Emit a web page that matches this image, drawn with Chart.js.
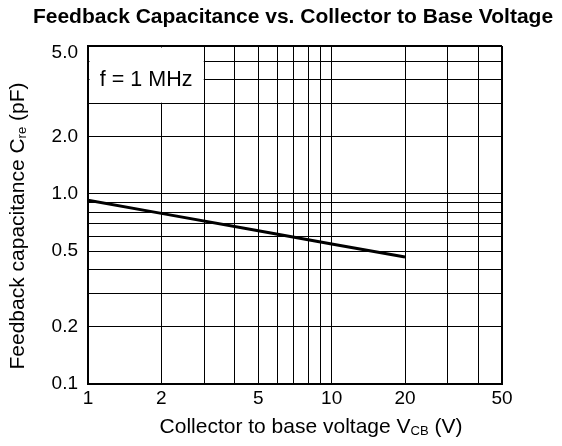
<!DOCTYPE html>
<html>
<head>
<meta charset="utf-8">
<script src="https://cdn.jsdelivr.net/npm/chart.js@4.4.1/dist/chart.umd.min.js"></script>
<style>
  html, body { margin: 0; padding: 0; background: #fff; }
  #wrap { width: 562px; height: 446px; }
</style>
</head>
<body>
<div id="wrap"><canvas id="cre"></canvas></div>
<script>
// Valores (escala log-log)
const vcb = [1, 2, 5, 10, 20];
const cre = [0.925, 0.79, 0.64, 0.545, 0.466];

// Linhas de grade e rotulos dos eixos
const xGrid = [1, 2, 3, 4, 5, 6, 7, 8, 9, 10, 20, 30, 40, 50];
const xLabels = { 1: "1", 2: "2", 5: "5", 10: "10", 20: "20", 50: "50" };
const yGrid = [0.1, 0.2, 0.3, 0.4, 0.5, 0.6, 0.7, 0.8, 0.9, 1, 2, 3, 4, 5, 5.5, 6];
const yLabels = { 0.1: "0.1", 0.2: "0.2", 0.5: "0.5", 1: "1.0", 2: "2.0", 5.5: "5.0" };
const yNoLine = [5.5];

const FONT = "'Liberation Sans', Arial, Helvetica, sans-serif";

// Desenha texto com subscrito (C_re, V_CB)
function drawParts(ctx, parts, size) {
  let total = 0;
  parts.forEach((p) => {
    ctx.font = (p.sub ? size * 0.62 : size) + "px " + FONT;
    p.w = ctx.measureText(p.t).width;
    total += p.w;
  });
  let x = -total / 2;
  parts.forEach((p) => {
    ctx.font = (p.sub ? size * 0.62 : size) + "px " + FONT;
    ctx.fillText(p.t, x, p.sub ? size * 0.22 : 0);
    x += p.w;
  });
}

const extras = {
  id: "extras",
  beforeDatasetsDraw(chart) {
    const { ctx, scales } = chart;
    const x1 = scales.x.getPixelForValue(1);
    const x2 = scales.x.getPixelForValue(3);
    const y1 = scales.y.getPixelForValue(6);
    const y2 = scales.y.getPixelForValue(3);
    ctx.save();
    ctx.fillStyle = "#fff";
    ctx.fillRect(x1 + 1.5, y1 + 1.5, x2 - x1 - 2, y2 - y1 - 2);
    ctx.fillStyle = "#000";
    ctx.font = "21.5px " + FONT;
    ctx.textAlign = "center";
    ctx.textBaseline = "middle";
    ctx.fillText("f = 1 MHz", (x1 + x2) / 2, (y1 + y2) / 2 + 5);
    ctx.restore();
  },
  afterDraw(chart) {
    const { ctx, chartArea } = chart;
    ctx.save();
    ctx.fillStyle = "#000";
    ctx.textAlign = "center";
    ctx.textBaseline = "middle";
    ctx.font = "bold 21px " + FONT;
    ctx.fillText("Feedback Capacitance vs. Collector to Base Voltage", 293, 17);
    ctx.restore();

    ctx.save();
    ctx.fillStyle = "#000";
    ctx.textBaseline = "middle";
    ctx.textAlign = "left";
    ctx.translate(311, 427);
    drawParts(ctx, [
      { t: "Collector to base voltage V" },
      { t: "CB", sub: true },
      { t: " (V)" }
    ], 21);
    ctx.restore();

    ctx.save();
    ctx.fillStyle = "#000";
    ctx.textBaseline = "middle";
    ctx.textAlign = "left";
    ctx.translate(18, (chartArea.top + chartArea.bottom) / 2 + 11);
    ctx.rotate(-Math.PI / 2);
    drawParts(ctx, [
      { t: "Feedback capacitance C" },
      { t: "re", sub: true },
      { t: " (pF)" }
    ], 21);
    ctx.restore();
  }
};

const edgeWidth = (edges) => (ctx) => {
  const v = ctx.tick ? ctx.tick.value : null;
  return edges.includes(v) ? 2 : 1;
};

new Chart(document.getElementById("cre"), {
  type: "line",
  data: {
    datasets: [
      {
        data: vcb.map((v, i) => ({ x: v, y: cre[i] })),
        borderColor: "#000",
        borderWidth: 3,
        pointRadius: 0,
        tension: 0,
        fill: false
      }
    ]
  },
  options: {
    responsive: true,
    maintainAspectRatio: false,
    animation: false,
    layout: { padding: { left: 0, right: 60, top: 46, bottom: 0 } },
    plugins: {
      legend: { display: false },
      tooltip: { enabled: false },
      title: { display: false }
    },
    scales: {
      x: {
        type: "logarithmic",
        min: 1,
        max: 50,
        afterBuildTicks: (axis) => { axis.ticks = xGrid.map((v) => ({ value: v })); },
        afterFit: (axis) => { axis.height = 62; },
        grid: { color: "#000", lineWidth: edgeWidth([1, 50]), drawTicks: false },
        border: { color: "#000", width: 2 },
        ticks: {
          autoSkip: false,
          maxRotation: 0,
          padding: 3,
          color: "#000",
          font: { family: FONT, size: 19 },
          callback: (value) => xLabels[value] || ""
        }
      },
      y: {
        type: "logarithmic",
        min: 0.1,
        max: 6,
        afterBuildTicks: (axis) => { axis.ticks = yGrid.map((v) => ({ value: v })); },
        afterFit: (axis) => { axis.width = 88; },
        grid: {
          color: (ctx) => (ctx.tick && yNoLine.includes(ctx.tick.value) ? "rgba(0,0,0,0)" : "#000"),
          lineWidth: edgeWidth([0.1, 6]),
          drawTicks: false
        },
        border: { color: "#000", width: 2 },
        ticks: {
          autoSkip: false,
          padding: 10,
          color: "#000",
          font: { family: FONT, size: 19 },
          callback: (value) => yLabels[value] || ""
        }
      }
    }
  },
  plugins: [extras]
});
</script>
</body>
</html>
